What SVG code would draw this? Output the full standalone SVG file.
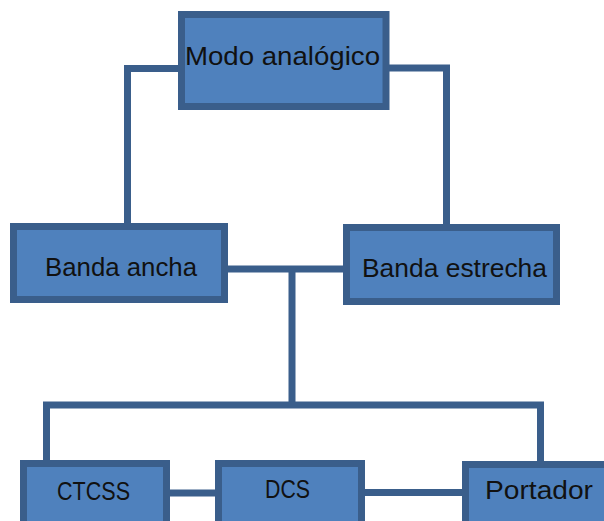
<svg xmlns="http://www.w3.org/2000/svg" width="604" height="521" viewBox="0 0 604 521">
  <style>
    .box { fill: #4F81BD; stroke: #3A5E8B; stroke-width: 7; }
    .lbl { font-family: "Liberation Sans", Arial, sans-serif; font-size: 26px; fill: #111; text-anchor: middle; }
    .wire { fill: none; stroke: #3A5E8B; stroke-width: 7; stroke-linejoin: miter; stroke-linecap: butt; }
  </style>
  <rect width="604" height="521" fill="#fff"/>

  <!-- connectors -->
  <g id="connectors">
    <path class="wire" d="M181,68.5 H127.5 V226"/>
    <path class="wire" d="M386,68 H446.5 V227"/>
    <path class="wire" d="M225,269 H346"/>
    <path class="wire" d="M292,269 V405"/>
    <path class="wire" d="M46.5,463 V405 H540.5 V464"/>
    <path class="wire" d="M167,493 H218"/>
    <path class="wire" d="M362,492.5 H465"/>
  </g>

  <g id="modo-analogico">
    <rect class="box" x="181.5" y="14.5" width="204.5" height="92"/>
    <text class="lbl" x="282.5" y="65" textLength="195" lengthAdjust="spacingAndGlyphs">Modo analógico</text>
  </g>

  <g id="banda-ancha">
    <rect class="box" x="13.5" y="226.5" width="211" height="73"/>
    <text class="lbl" x="121" y="276" textLength="152" lengthAdjust="spacingAndGlyphs">Banda ancha</text>
  </g>

  <g id="banda-estrecha">
    <rect class="box" x="346.5" y="227.5" width="210" height="74"/>
    <text class="lbl" x="454.5" y="277" textLength="185" lengthAdjust="spacingAndGlyphs">Banda estrecha</text>
  </g>

  <g id="ctcss">
    <rect class="box" x="23.5" y="463.5" width="143" height="70"/>
    <text class="lbl" x="93.5" y="500" textLength="73" lengthAdjust="spacingAndGlyphs">CTCSS</text>
  </g>

  <g id="dcs">
    <rect class="box" x="218.5" y="463.5" width="143" height="70"/>
    <text class="lbl" x="287.5" y="498" textLength="45" lengthAdjust="spacingAndGlyphs">DCS</text>
  </g>

  <g id="portador">
    <rect class="box" x="465.5" y="464.5" width="150" height="70"/>
    <text class="lbl" x="539" y="499" textLength="108" lengthAdjust="spacingAndGlyphs">Portador</text>
  </g>
</svg>
